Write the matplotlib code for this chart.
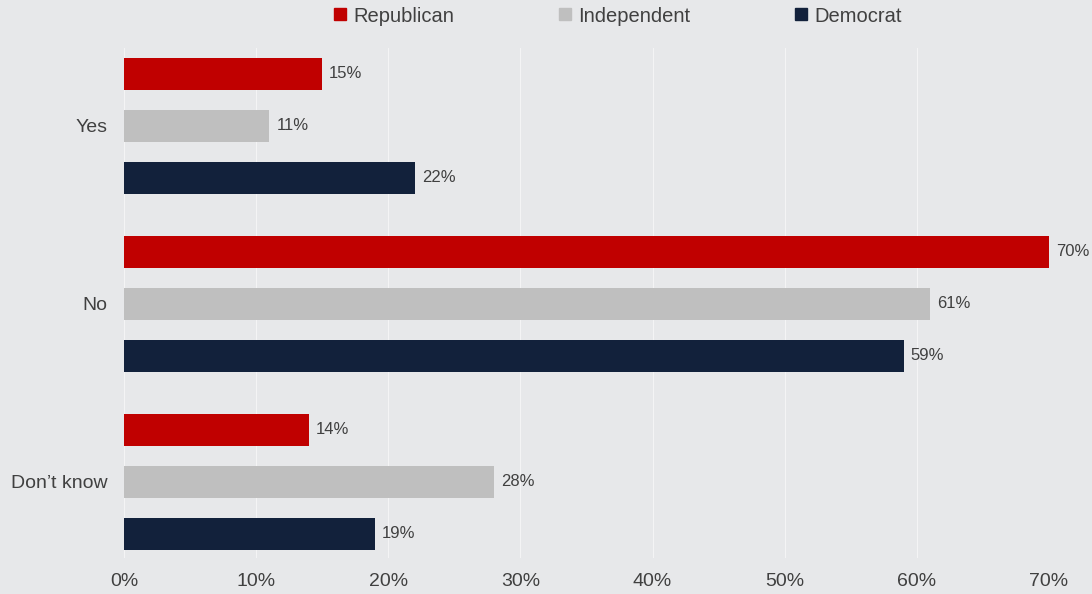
import numpy as np
import matplotlib.pyplot as plt
from matplotlib.lines import Line2D

plt.rcParams['font.family'] = ['Liberation Sans', 'DejaVu Sans']

categories = ["Yes", "No", "Don\u2019t know"]
series = ["Republican", "Independent", "Democrat"]
republican = [15, 70, 14]
independent = [11, 61, 28]
democrat = [22, 59, 19]
xticks = [0, 10, 20, 30, 40, 50, 60, 70]

colors = ["#C00000", "#BFBFBF", "#12213B"]
bg = "#E7E8EA"
text_color = "#404040"

fig = plt.figure(figsize=(10.92, 5.94), dpi=100, facecolor=bg)
ax = fig.add_axes([124 / 1092, 1 - 558 / 594, (1049 - 124) / 1092, (558 - 48) / 594])
ax.set_facecolor(bg)

# bars sit 52px apart inside a group, groups 178px apart
group_step = 178 / 52
values = [republican, independent, democrat]
for i, (name, vals, col) in enumerate(zip(series, values, colors)):
    ys = np.arange(len(categories)) * group_step + i
    bars = ax.barh(ys, vals, height=0.615, color=col, label=name, zorder=3)
    ax.bar_label(bars, labels=[f"{v}%" for v in vals], padding=5,
                 fontsize=12, color=text_color)

ax.set_yticks(np.arange(len(categories)) * group_step + 1)
ax.set_yticklabels(categories, fontsize=14, color=text_color)
ax.set_ylim((558 - 74) / 52, -0.5)
ax.set_xlim(0, 70)
ax.set_xticks(xticks)
ax.set_xticklabels([f"{t}%" for t in xticks], fontsize=14, color=text_color)
ax.tick_params(axis='both', length=0)
ax.tick_params(axis='y', pad=12)
ax.tick_params(axis='x', pad=11)
ax.grid(axis='x', color='#F4F4F5', linewidth=0.8, zorder=0)
for s in ax.spines.values():
    s.set_visible(False)

handles = [Line2D([0], [0], marker='s', linestyle='', color=c, markersize=8) for c in colors]
fig.legend(handles, series, loc='center', bbox_to_anchor=(618 / 1092, 1 - 16 / 594),
           ncol=3, frameon=False, fontsize=14.5, labelcolor=text_color,
           handlelength=0.6, handletextpad=0.35, columnspacing=5.2)

fig.savefig("out.png", dpi=100, facecolor=bg)
